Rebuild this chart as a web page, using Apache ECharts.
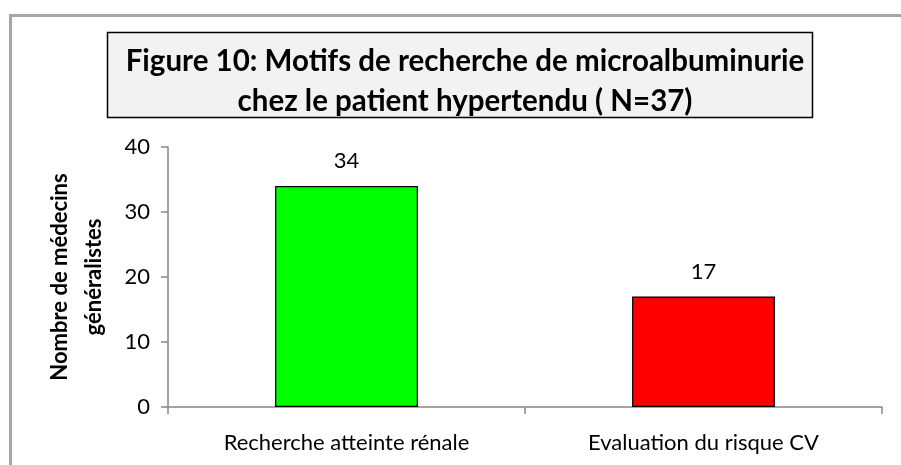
<!DOCTYPE html>
<html>
<head>
<meta charset="utf-8">
<script src="https://cdn.jsdelivr.net/npm/echarts@6/dist/echarts.min.js"></script>
<style>
  html, body { margin: 0; padding: 0; background: #fff; }
  #chart { width: 901px; height: 465px; }
</style>
</head>
<body>
<div id="chart"></div>
<script>
const categories = ["Recherche atteinte rénale", "Evaluation du risque CV"];
const values = [34, 17];
const barColors = ["#00ff00", "#ff0000"];
const titleText = "Figure 10: Motifs de recherche de microalbuminurie\nchez le patient hypertendu ( N=37)";
const yName = "Nombre de médecins\ngénéralistes";

const font = "Lato, 'Open Sans', sans-serif";
const chart = echarts.init(document.getElementById("chart"));

const option = {
  animation: false,
  textStyle: { fontFamily: font },
  graphic: [
    {
      type: "rect",
      shape: { x: 10.5, y: 15.5, width: 1000, height: 1000 },
      style: { fill: "none", stroke: "#a6a6a6", lineWidth: 3 },
      z: -1
    },
    {
      type: "rect",
      shape: { x: 107.5, y: 32.5, width: 705, height: 85 },
      style: { fill: "#f2f2f2", stroke: "#000", lineWidth: 1.5 },
      z: -1
    }
  ],
  title: {
    text: titleText,
    left: 460,
    top: 36,
    textAlign: "center",
    textStyle: {
      fontFamily: font,
      fontSize: 29.5,
      fontWeight: "bold",
      color: "#000",
      lineHeight: 40,
      align: "center"
    }
  },
  grid: { left: 168, right: 19, top: 147, bottom: 58 },
  xAxis: {
    type: "category",
    data: categories,
    axisLine: { lineStyle: { color: "#868686", width: 1.5 } },
    axisTick: { show: true, length: 7, alignWithLabel: false, lineStyle: { color: "#868686", width: 1.5 } },
    axisLabel: { color: "#000", fontSize: 22, margin: 25 }
  },
  yAxis: {
    type: "value",
    min: 0,
    max: 40,
    interval: 10,
    name: yName,
    nameLocation: "middle",
    nameRotate: 90,
    nameGap: 57,
    nameTextStyle: { color: "#000", fontSize: 22, fontWeight: "bold", lineHeight: 34, align: "center" },
    axisLine: { show: true, lineStyle: { color: "#868686", width: 1.5 } },
    axisTick: { show: true, length: 7, lineStyle: { color: "#868686", width: 1.5 } },
    axisLabel: { color: "#000", fontSize: 22, margin: 18 },
    splitLine: { show: false }
  },
  series: [
    {
      type: "bar",
      barWidth: "40%",
      data: values.map((v, i) => ({
        value: v,
        itemStyle: { color: barColors[i], borderColor: "#000", borderWidth: 1.2 }
      })),
      label: { show: true, position: "top", distance: 14, color: "#000", fontSize: 22 }
    }
  ]
};

chart.setOption(option);
</script>
</body>
</html>
